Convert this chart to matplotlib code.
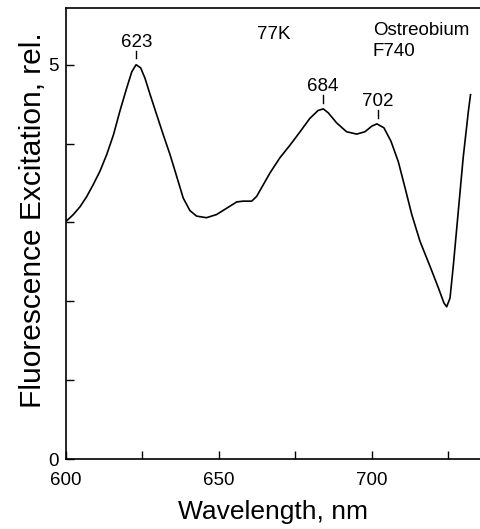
import numpy as np
import matplotlib.pyplot as plt

plt.rcParams['font.family'] = ['Liberation Sans', 'DejaVu Sans']

# excitation spectrum (wavelength nm, relative units)
wavelength = [600.2, 602.4, 604.6, 606.8, 608.9, 611.1, 613.3, 615.5, 617.6, 619.8,
              621.5, 622.9, 624.4, 625.8, 627.5, 629.6, 631.8, 634.0, 636.2, 638.3,
              640.5, 642.7, 645.9, 649.2, 652.5, 655.8, 657.9, 660.7, 662.3, 664.5,
              666.7, 669.9, 673.2, 676.5, 679.7, 682.4, 684.1, 685.7, 688.5, 691.7,
              695.0, 697.7, 699.9, 701.6, 703.9, 706.2, 708.6, 710.8, 713.0, 715.7,
              719.0, 721.7, 723.5, 724.4, 725.5, 726.6, 728.2, 729.8, 731.5, 732.2]
excitation = [3.02, 3.10, 3.20, 3.33, 3.48, 3.65, 3.86, 4.11, 4.41, 4.70,
              4.91, 5.00, 4.96, 4.83, 4.62, 4.37, 4.11, 3.86, 3.58, 3.31,
              3.15, 3.08, 3.06, 3.10, 3.18, 3.26, 3.27, 3.27, 3.33, 3.48,
              3.63, 3.82, 3.98, 4.15, 4.32, 4.42, 4.44, 4.39, 4.26, 4.15,
              4.12, 4.15, 4.22, 4.25, 4.20, 4.03, 3.77, 3.44, 3.10, 2.76,
              2.44, 2.17, 1.98, 1.93, 2.04, 2.46, 3.14, 3.82, 4.41, 4.62]

peaks = [623, 684, 702]
peak_heights = [5.00, 4.44, 4.25]

fig = plt.figure(figsize=(4.8, 5.29), dpi=100)
ax = fig.add_axes([0.1375, 0.1323, 0.8625, 0.8527])

ax.plot(wavelength, excitation, color='black', lw=1.2,
        solid_joinstyle='round')

# peak markers
for p, h in zip(peaks, peak_heights):
    ax.plot([p, p], [h + 0.08, h + 0.17], color='black', lw=1)
    ax.text(p, h + 0.23, str(p), ha='center', va='baseline', fontsize=13.5)

ax.text(662.4, 5.38, '77K', ha='left', va='center', fontsize=13.5)
ax.text(700.3, 5.43, 'Ostreobium', ha='left', va='center', fontsize=13.5)
ax.text(700.3, 5.17, 'F740', ha='left', va='center', fontsize=13.5)

ax.set_xlim(600, 735.3)
ax.set_ylim(0, 5.72)

ax.set_xticks([600, 625, 650, 675, 700, 725])
ax.set_xticklabels(['600', '', '650', '', '700', ''])
ax.set_yticks([0, 1, 2, 3, 4, 5])
ax.set_yticklabels(['0', '', '', '', '', '5'])
ax.tick_params(direction='in', length=6, width=1, labelsize=13.5)
ax.tick_params(axis='x', pad=9)
ax.tick_params(axis='y', pad=5)

ax.spines['right'].set_visible(False)
for s in ['left', 'top', 'bottom']:
    ax.spines[s].set_linewidth(1.2)

ax.set_xlabel('Wavelength, nm', fontsize=19, labelpad=8)
ax.set_ylabel('Fluorescence Excitation, rel.', fontsize=21.5)
ax.yaxis.set_label_coords(-0.045, 0.53)

fig.savefig('out.png', dpi=100)
